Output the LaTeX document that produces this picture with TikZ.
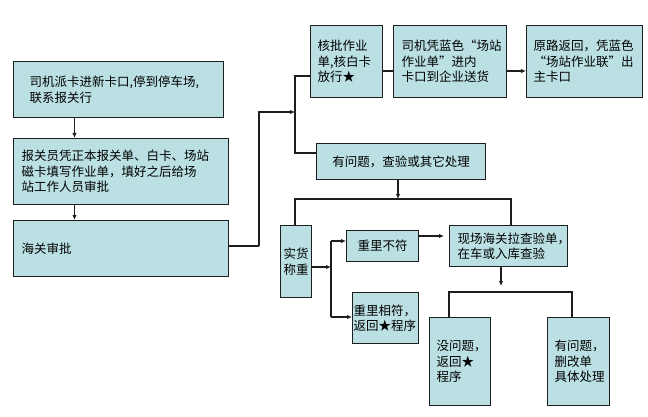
\documentclass[tikz,border=0pt]{standalone}
\usepackage{fontspec}
\setmainfont{Noto Sans CJK SC}
\usetikzlibrary{arrows.meta}
\definecolor{boxfill}{HTML}{BBE0E3}
\definecolor{linec}{HTML}{1E1E1E}
\begin{document}
\begin{tikzpicture}[x=1pt,y=-1pt,
  font=\fontsize{12.5pt}{15.5pt}\selectfont,
  box/.style={draw=linec,line width=1.2pt,fill=boxfill,anchor=north west,inner ysep=0pt,inner xsep=0pt,align=left},
  conn/.style={draw=linec,line width=1.2pt},
  arr/.style={conn,-{Latex[length=5pt,width=4.5pt]}}]
\useasboundingbox (0,0) rectangle (648,417);
% boxes: x1,y1 size w,h ; text width = w - 2*pad
\node[box,minimum width=210pt,minimum height=56pt,text width=194pt] (A) at (13,61) {\hspace*{8pt}司机派卡进新卡口,停到停车场,\\\hspace*{8pt}联系报关行};
\node[box,minimum width=215pt,minimum height=66pt,text width=215pt] (B) at (13,138) {\hspace*{8pt}报关员凭正本报关单、白卡、场站\\\hspace*{8pt}磁卡填写作业单，填好之后给场\\\hspace*{8pt}站工作人员审批};
\node[box,minimum width=215pt,minimum height=56pt,text width=215pt] (C) at (13,220) {\hspace*{8pt}海关审批};
\node[box,minimum width=72pt,minimum height=72pt,text width=72pt] (D) at (310,25) {\hspace*{7pt}核批作业\\\hspace*{7pt}单,核白卡\\\hspace*{7pt}放行★};
\node[box,minimum width=113pt,minimum height=72pt,text width=113pt] (F) at (393,25) {\hspace*{8pt}司机凭蓝色“场站\\\hspace*{8pt}作业单”进内\\\hspace*{8pt}卡口到企业送货};
\node[box,minimum width=116pt,minimum height=72pt,text width=116pt] (G) at (526,25) {\hspace*{7pt}原路返回，凭蓝色\\\hspace*{7pt}“场站作业联”出\\\hspace*{7pt}主卡口};
\node[box,minimum width=169pt,minimum height=36pt,align=center] (E) at (316,143) {有问题，查验或其它处理};
\node[box,minimum width=31pt,minimum height=72pt,text width=31pt] (H) at (280,225) {\hspace*{3pt}实货\\\hspace*{3pt}称重};
\node[box,minimum width=72pt,minimum height=31pt,align=center] (K) at (346,230) {重里不符};
\node[box,minimum width=66pt,minimum height=51pt,text width=66pt] (L) at (352,292) {\hspace*{1pt}重里相符，\\\hspace*{1pt}返回★程序};
\node[box,minimum width=118pt,minimum height=41pt,text width=118pt] (J) at (449,225) {\hspace*{8pt}现场海关拉查验单，\\\hspace*{8pt}在车或入库查验};
\node[box,minimum width=61pt,minimum height=88pt,text width=61pt] (M) at (429,317) {\hspace*{7pt}没问题，\\\hspace*{7pt}返回★\\\hspace*{7pt}程序};
\node[box,minimum width=62pt,minimum height=88pt,text width=62pt] (N) at (547,317) {\hspace*{7pt}有问题，\\\hspace*{7pt}删改单\\\hspace*{7pt}具体处理};
% junction coordinates
\coordinate (cAB) at (74.5,0);
\coordinate (cC) at (259,246);
\coordinate (cV1) at (295,112);
\coordinate (cV1top) at (295,76);
\coordinate (cV1bot) at (295,153);
\coordinate (cE) at (398,0);
\coordinate (cH2L) at (295,199);
\coordinate (cH2R) at (511,199);
\coordinate (cV2) at (331,267);
\coordinate (cV2top) at (331,241);
\coordinate (cV2bot) at (331,317);
\coordinate (cJ) at (501,0);
\coordinate (cH3L) at (449,292);
\coordinate (cH3R) at (572,292);
\coordinate (rDF) at (0,71);
\coordinate (rKJ) at (0,236);
% connectors
\draw[arr] (A.south -| cAB) -- (B.north -| cAB);
\draw[arr] (B.south -| cAB) -- (C.north -| cAB);
\draw[conn] (C.east |- cC) -- (cC);
\draw[arr] (cC) |- (cV1);
\draw[conn] (D.west |- cV1top) -- (cV1top) -- (cV1bot) -- (E.west |- cV1bot);
\draw[conn] (D.east |- rDF) -- (F.west |- rDF);
\draw[arr] (F.east |- rDF) -- (G.west |- rDF);
\draw[arr] (E.south -| cE) -- (cH2L -| cE);
\draw[conn] (H.north -| cH2L) -- (cH2L) -- (cH2R) -- (J.north -| cH2R);
\draw[arr] (H.east |- cV2) -- (cV2);
\draw[conn] (cV2top) -- (cV2bot);
\draw[arr] (cV2top) -- (K.west |- cV2top);
\draw[arr] (cV2bot) -- (L.west |- cV2bot);
\draw[arr,shorten >=5pt] (K.east |- rKJ) -- (J.west |- rKJ);
\draw[arr,shorten >=6pt] (J.south -| cJ) -- (cH3L -| cJ);
\draw[conn] (M.north -| cH3L) -- (cH3L) -- (cH3R) -- (N.north -| cH3R);
\end{tikzpicture}
\end{document}
